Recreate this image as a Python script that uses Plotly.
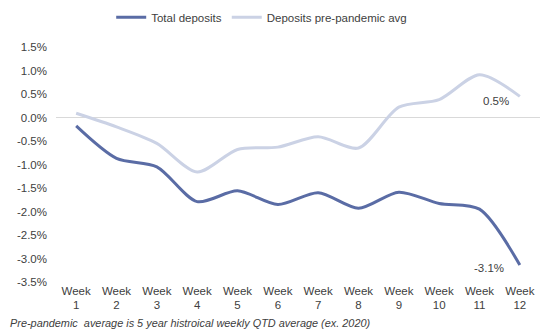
import plotly.graph_objects as go

weeks = ["Week<br>1", "Week<br>2", "Week<br>3", "Week<br>4", "Week<br>5", "Week<br>6",
         "Week<br>7", "Week<br>8", "Week<br>9", "Week<br>10", "Week<br>11", "Week<br>12"]
total_deposits = [-0.18, -0.87, -1.05, -1.79, -1.56, -1.85, -1.60, -1.93, -1.59, -1.83, -1.95, -3.14]
pre_pandemic = [0.09, -0.20, -0.55, -1.16, -0.68, -0.63, -0.41, -0.65, 0.22, 0.38, 0.91, 0.45]
y_ticks = [1.5, 1.0, 0.5, 0.0, -0.5, -1.0, -1.5, -2.0, -2.5, -3.0, -3.5]
y_tick_text = [f"{v:.1f}%" for v in y_ticks]
footnote = "Pre-pandemic  average is 5 year histroical weekly QTD average (ex. 2020)"

dark = "#5A6CA5"
light = "#CBD2E5"
txt = "#404040"
font_family = "Liberation Sans, Arial, sans-serif"

fig = go.Figure()
fig.add_trace(go.Scatter(x=weeks, y=total_deposits, mode="lines", name="Total deposits",
                         line=dict(color=dark, width=3, shape="spline", smoothing=0.8)))
fig.add_trace(go.Scatter(x=weeks, y=pre_pandemic, mode="lines", name="Deposits pre-pandemic avg",
                         line=dict(color=light, width=3, shape="spline", smoothing=0.8)))

fig.add_annotation(x=weeks[-1], y=pre_pandemic[-1], text="0.5%", showarrow=False,
                   xshift=-24, yshift=-5, font=dict(size=11.5, color=txt, family=font_family))
fig.add_annotation(x=weeks[-1], y=total_deposits[-1], text="-3.1%", showarrow=False,
                   xshift=-31, yshift=-3, font=dict(size=11.5, color=txt, family=font_family))
fig.add_annotation(xref="paper", yref="paper", x=-0.1, y=-0.175, text=f"<i>{footnote}</i>",
                   showarrow=False, xanchor="left", yanchor="middle", align="left",
                   font=dict(size=10.9, color=txt, family=font_family))

fig.update_layout(
    width=540, height=330,
    margin=dict(l=56, r=0, t=47, b=48, autoexpand=False),
    paper_bgcolor="white", plot_bgcolor="white",
    font=dict(family=font_family, size=11, color=txt),
    showlegend=True,
    legend=dict(orientation="h", x=0.425, xanchor="center", y=0.948, yanchor="middle",
                yref="container",
                font=dict(size=11.5, color=txt), itemwidth=30, bgcolor="rgba(0,0,0,0)"),
    xaxis=dict(range=[-0.5, 11.5], showgrid=False, zeroline=False, showline=False,
               ticks="", tickfont=dict(size=11.5, color=txt)),
    yaxis=dict(range=[-3.5, 1.5], tickvals=y_ticks, ticktext=y_tick_text, showgrid=False,
               zeroline=True, zerolinecolor="#D9D9D9", zerolinewidth=1, showline=False,
               ticks="", tickfont=dict(size=11.5, color=txt), ticklabelstandoff=8),
)
fig.write_html("out.html")
